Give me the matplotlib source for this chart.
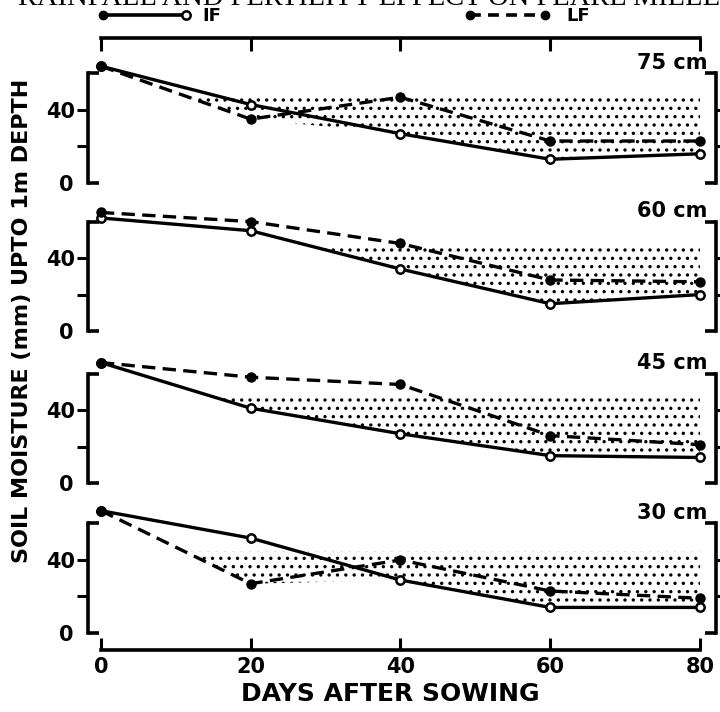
import matplotlib
matplotlib.use("Agg")
import matplotlib.pyplot as plt
from matplotlib.lines import Line2D
import numpy as np

# Data (soil moisture, mm, upto 1 m depth)
days = [0, 20, 40, 60, 80]
depths = ["75 cm", "60 cm", "45 cm", "30 cm"]
if_75 = [64, 43, 27, 13, 16]
lf_75 = [64, 35, 47, 23, 23]
if_60 = [62, 55, 34, 15, 20]
lf_60 = [65, 60, 48, 28, 27]
if_45 = [66, 41, 27, 15, 14]
lf_45 = [66, 58, 54, 26, 21]
if_30 = [67, 52, 29, 14, 14]
lf_30 = [67, 27, 40, 23, 19]
stipple_top = [48, 46, 47, 44.5]
if_series = [if_75, if_60, if_45, if_30]
lf_series = [lf_75, lf_60, lf_45, lf_30]

plt.rcParams['font.family'] = ['DejaVu Sans']
plt.rcParams['font.weight'] = 'bold'
plt.rcParams['hatch.linewidth'] = 1.2

fig = plt.figure(figsize=(7.2, 7.12), dpi=100)
left, width = 0.122, 0.872
xlim = (-1.75, 82.1)

# frame axes carrying the shared top and bottom x axis
frame = fig.add_axes([left, 0.0871, width, 0.8596], zorder=0)
frame.set_xlim(xlim)
frame.set_ylim(0, 1)
for s in ['left', 'right']:
    frame.spines[s].set_visible(False)
for s in ['top', 'bottom']:
    frame.spines[s].set_linewidth(2.6)
    frame.spines[s].set_bounds(0, 80)
frame.set_yticks([])
frame.set_xticks(days)
frame.tick_params(axis='x', direction='in', top=True, length=9, width=2.2,
                  labelsize=15, pad=5)
frame.set_facecolor('none')

bottoms = [0.743, 0.535, 0.3216, 0.111]
height = 0.1794
for i in range(4):
    ax = fig.add_axes([left, bottoms[i], width, height], zorder=2)
    ax.set_facecolor('none')
    ax.set_xlim(xlim)
    ax.set_ylim(0, 70)
    x = np.array(days)
    yi = np.array(if_series[i])
    yl = np.array(lf_series[i])
    low = np.minimum(yi, yl)
    top = stipple_top[i]
    ax.fill_between(x, low, top, where=low < top, interpolate=True,
                    facecolor='none', edgecolor='black', hatch='..', linewidth=0)
    ax.plot(days, if_series[i], '-', color='black', lw=2.4, marker='o',
            ms=6, mfc='white', mec='black', mew=1.8, clip_on=False)
    ax.plot(days, lf_series[i], color='black', lw=2.4, ls=(0, (4, 2.2)),
            marker='o', ms=6.5, mfc='black', mec='black', clip_on=False)
    for s in ['top', 'bottom']:
        ax.spines[s].set_visible(False)
    for s in ['left', 'right']:
        ax.spines[s].set_linewidth(2.6)
        ax.spines[s].set_bounds(0, 60)
    ax.set_xticks([])
    ax.set_yticks([20, 40])
    ax.set_yticklabels(['', '40'])
    ax.set_yticks([0, 60], minor=True)
    ax.set_yticklabels(['0', ''], minor=True)
    ax.tick_params(axis='y', which='major', direction='out', right=True,
                   length=8, width=2.2, labelsize=15, pad=1)
    ax.tick_params(axis='y', which='minor', direction='in', right=True,
                   length=8, width=2.6, labelsize=15, pad=10)
    ax.text(81, 66, depths[i], ha='right', va='center', fontsize=15,
            fontweight='bold')

# legend drawn by hand at the top
fig.lines.append(Line2D([103 / 720, 186 / 720], [0.979, 0.979], color='black',
                        lw=2.6, transform=fig.transFigure))
fig.lines.append(Line2D([103 / 720], [0.979], marker='o', ms=6, color='black',
                        transform=fig.transFigure))
fig.lines.append(Line2D([186 / 720], [0.979], marker='o', ms=6, mfc='white',
                        mec='black', mew=1.8, transform=fig.transFigure))
fig.text(202 / 720, 0.977, 'IF', ha='left', va='center', fontsize=13)
fig.lines.append(Line2D([470 / 720, 545 / 720], [0.979, 0.979], color='black',
                        lw=2.6, ls=(0, (3, 2)), marker='o', ms=6,
                        transform=fig.transFigure))
fig.text(566 / 720, 0.977, 'LF', ha='left', va='center', fontsize=13)

# clipped heading of the scanned page
fig.text(0.025, 0.9925, 'RAINFALL AND FERTILITY EFFECT ON PEARL MILLET',
         family='Liberation Serif', fontweight='normal', fontsize=20.5,
         ha='left', va='baseline')

fig.text(390 / 720, 0.0253, 'DAYS AFTER SOWING', ha='center', va='center',
         fontsize=18)
fig.text(0.031, 0.55, 'SOIL MOISTURE (mm) UPTO 1m DEPTH', rotation=90,
         ha='center', va='center', fontsize=16)

fig.savefig('out.png', dpi=100)
